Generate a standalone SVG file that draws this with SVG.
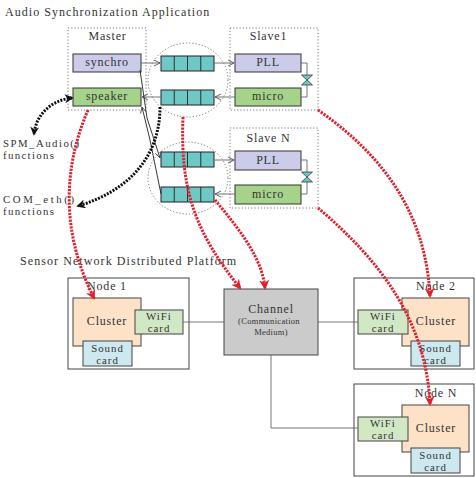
<svg xmlns="http://www.w3.org/2000/svg" width="476" height="478" viewBox="0 0 476 478">
<defs>
<style>
text{font-family:"Liberation Serif","Times New Roman",serif;fill:#333;font-size:12px;letter-spacing:0.8px}
.c{text-anchor:middle}
.t2{font-size:10.8px;letter-spacing:1px}
.sm{font-size:8.5px;letter-spacing:0.3px}
.dot{fill:none;stroke:#555;stroke-width:0.8;stroke-dasharray:1.2 2}
.syn{fill:#ccccea;stroke:#333;stroke-width:1}
.grn{fill:#a6d38a;stroke:#333;stroke-width:1}
.q{fill:#6ec8c6;stroke:#222;stroke-width:1}
.ln{fill:none;stroke:#666;stroke-width:0.9}
.lnk{fill:none;stroke:#222;stroke-width:0.9}
.node{fill:#fff;stroke:#444;stroke-width:1}
.cl{fill:#fde2c8;stroke:#444;stroke-width:1}
.wf{fill:#d2e7c4;stroke:#444;stroke-width:1}
.sd{fill:#cde8ee;stroke:#444;stroke-width:1}
.ch{fill:#cbcbcb;stroke:#444;stroke-width:1}
.bk{fill:none;stroke:#111;stroke-width:3;stroke-dasharray:2 1.3}
.rd{fill:none;stroke:#e0202c;stroke-width:3;stroke-dasharray:2.2 1.2}
</style>
<marker id="ag" viewBox="0 0 8 8" refX="7" refY="4" markerWidth="8" markerHeight="8" markerUnits="userSpaceOnUse" orient="auto-start-reverse"><path d="M1,1 L7,4 L1,7" fill="none" stroke="#555" stroke-width="0.9"/></marker>
<marker id="ab" viewBox="0 0 10 10" refX="8" refY="5" markerWidth="9" markerHeight="9" markerUnits="userSpaceOnUse" orient="auto-start-reverse"><path d="M0,0 L10,5 L0,10 L3,5 Z" fill="#111"/></marker>
<marker id="ar" viewBox="0 0 10 10" refX="8" refY="5" markerWidth="10" markerHeight="10" markerUnits="userSpaceOnUse" orient="auto-start-reverse"><path d="M0,0 L10,5 L0,10 L3,5 Z" fill="#e0202c"/></marker>
</defs>
<rect width="476" height="478" fill="#fff"/>

<text x="5" y="16" textLength="205">Audio Synchronization Application</text>

<g id="master">
<rect class="dot" x="68" y="28" width="78" height="82"/>
<text class="c" x="107.5" y="40">Master</text>
<rect class="syn" x="73" y="54" width="68" height="18"/>
<text class="c" x="107" y="66">synchro</text>
<rect class="grn" x="73" y="88" width="68" height="18"/>
<text class="c" x="107" y="100">speaker</text>
</g>

<g id="queues1">
<ellipse class="dot" cx="188" cy="80" rx="40" ry="37"/>
<rect class="q" x="161" y="56" width="53" height="15"/>
<path class="lnk" d="M174.25,56v15M187.5,56v15M200.75,56v15"/>
<rect class="q" x="161" y="90" width="53" height="15"/>
<path class="lnk" d="M174.25,90v15M187.5,90v15M200.75,90v15"/>
</g>

<g id="queuesN">
<ellipse class="dot" cx="188" cy="178" rx="40" ry="36"/>
<rect class="q" x="161" y="152" width="53" height="15"/>
<path class="lnk" d="M174.25,152v15M187.5,152v15M200.75,152v15"/>
<rect class="q" x="161" y="187" width="53" height="15"/>
<path class="lnk" d="M174.25,187v15M187.5,187v15M200.75,187v15"/>
</g>

<g id="slave1">
<rect class="dot" x="230" y="28" width="88" height="82"/>
<text class="c" x="268.5" y="40">Slave1</text>
<rect class="syn" x="235" y="54" width="66" height="18"/>
<text class="c" x="268" y="66">PLL</text>
<rect class="grn" x="235" y="88" width="66" height="18"/>
<text class="c" x="268" y="100">micro</text>
<path class="ln" d="M301,63H307V75M301,97H307V85"/>
<path d="M301.5,75H312.5L307,80Z M301.5,85H312.5L307,80Z" fill="#6ec8c6" stroke="#222" stroke-width="0.7"/>
</g>

<g id="slaveN">
<rect class="dot" x="230" y="128" width="88" height="80"/>
<text class="c" x="268.5" y="142">Slave N</text>
<rect class="syn" x="235" y="151" width="66" height="19"/>
<text class="c" x="268" y="164">PLL</text>
<rect class="grn" x="235" y="185" width="66" height="19"/>
<text class="c" x="268" y="198">micro</text>
<path class="ln" d="M301,160H307V172M301,194H307V182"/>
<path d="M301.5,172H312.5L307,177Z M301.5,182H312.5L307,177Z" fill="#6ec8c6" stroke="#222" stroke-width="0.7"/>
</g>

<g id="labels">
<text class="t2" x="3" y="147" textLength="77">SPM_Audio()</text>
<text class="t2" x="3" y="159" textLength="52">functions</text>
<text class="t2" x="3" y="203" textLength="72">COM_eth()</text>
<text class="t2" x="3" y="215" textLength="52">functions</text>
<text x="20" y="265" textLength="217">Sensor Network Distributed Platform</text>
</g>

<g id="node1">
<rect class="node" x="68" y="278" width="121" height="91"/>
<text class="c" x="107" y="290">Node 1</text>
<rect class="cl" x="73" y="298" width="68" height="48"/>
<text class="c" x="107" y="325">Cluster</text>
<rect class="wf" x="135" y="310" width="48" height="24"/>
<text class="c t2" x="159" y="319.5">WiFi</text>
<text class="c t2" x="159" y="331.5">card</text>
<rect class="sd" x="83" y="341" width="49" height="25"/>
<text class="c t2" x="107.5" y="351.5">Sound</text>
<text class="c t2" x="107.5" y="363.5">card</text>
</g>

<g id="channel">
<rect class="ch" x="224" y="289" width="94" height="66"/>
<text class="c" x="271" y="313">Channel</text>
<text class="c sm" x="269" y="324">(Communication</text>
<text class="c sm" x="271" y="335">Medium)</text>
</g>

<g id="node2">
<rect class="node" x="354" y="278" width="120" height="91"/>
<text class="c" x="436" y="290">Node 2</text>
<rect class="cl" x="402" y="298" width="67" height="48"/>
<text class="c" x="436" y="325">Cluster</text>
<rect class="wf" x="358" y="310" width="50" height="24"/>
<text class="c t2" x="383" y="319.5">WiFi</text>
<text class="c t2" x="383" y="331.5">card</text>
<rect class="sd" x="411" y="341" width="49" height="25"/>
<text class="c t2" x="435.5" y="351.5">Sound</text>
<text class="c t2" x="435.5" y="363.5">card</text>
</g>

<g id="nodeN">
<rect class="node" x="354" y="384" width="120" height="92"/>
<text class="c" x="436" y="397">Node N</text>
<rect class="cl" x="402" y="405" width="67" height="47"/>
<text class="c" x="436" y="432">Cluster</text>
<rect class="wf" x="358" y="417" width="50" height="24"/>
<text class="c t2" x="383" y="426.5">WiFi</text>
<text class="c t2" x="383" y="438.5">card</text>
<rect class="sd" x="411" y="448" width="49" height="25"/>
<text class="c t2" x="435.5" y="458.5">Sound</text>
<text class="c t2" x="435.5" y="470.5">card</text>
</g>

<g id="connectors">
<path class="ln" d="M141,63H160" marker-end="url(#ag)"/>
<path class="ln" d="M214,63H234" marker-end="url(#ag)"/>
<path class="ln" d="M235,97H215" marker-end="url(#ag)"/>
<path class="ln" d="M161,97H142" marker-end="url(#ag)"/>
<path class="ln" d="M214,160H234" marker-end="url(#ag)"/>
<path class="ln" d="M235,194H215" marker-end="url(#ag)"/>
<path class="lnk" d="M140,70L147,118L160,158" marker-end="url(#ag)"/>
<path class="lnk" d="M161,194L150,140L142,107" marker-end="url(#ag)"/>
<path class="ln" d="M183,322H224M318,322H358M271,355V428H358"/>
<path class="bk" d="M72,98C52,100 36,114 34,134" marker-start="url(#ab)" marker-end="url(#ab)"/>
<path class="bk" d="M160,107C160,160 125,192 78,206" marker-end="url(#ab)"/>
<path class="rd" d="M88,110C62,170 62,235 94,298" marker-end="url(#ar)"/>
<path class="rd" d="M183,117C180,190 195,232 240,288" marker-end="url(#ar)"/>
<path class="rd" d="M215,200C240,230 262,258 265,288" marker-end="url(#ar)"/>
<path class="rd" d="M318,110C390,160 426,220 430,296" marker-end="url(#ar)"/>
<path class="rd" d="M318,208C382,262 426,322 430,404" marker-end="url(#ar)"/>
</g>
</svg>
